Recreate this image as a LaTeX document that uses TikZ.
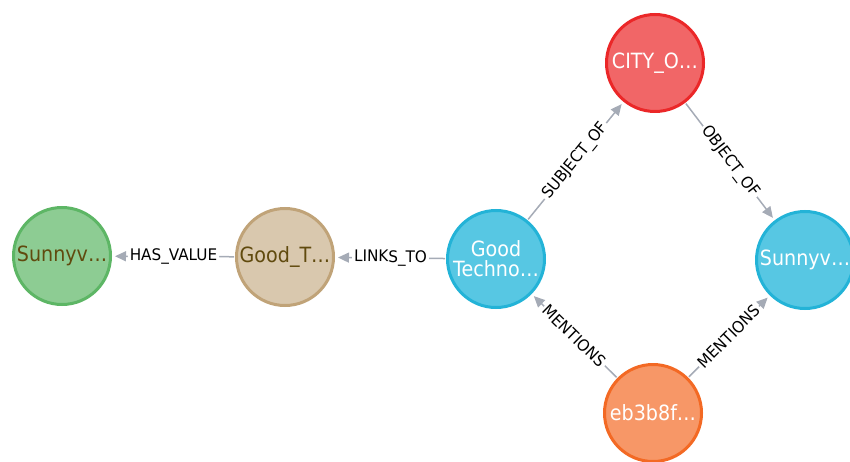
\documentclass[tikz,border=0pt]{standalone}
\usepackage{fontspec}
\setmainfont{DejaVu Sans}
\newfontfamily\nodefont[FakeStretch=0.91]{DejaVu Sans}
\newfontfamily\relfont[FakeStretch=0.95]{DejaVu Sans}
\usetikzlibrary{arrows.meta}
\definecolor{relgray}{HTML}{A5ABB6}
\definecolor{bluefill}{HTML}{57C7E3}
\definecolor{bluedraw}{HTML}{23B3D7}
\definecolor{redfill}{HTML}{F16667}
\definecolor{reddraw}{HTML}{EB2728}
\definecolor{orangefill}{HTML}{F79767}
\definecolor{orangedraw}{HTML}{F36924}
\definecolor{greenfill}{HTML}{8DCC93}
\definecolor{greendraw}{HTML}{5DB665}
\definecolor{tanfill}{HTML}{D9C8AE}
\definecolor{tandraw}{HTML}{C0A378}
\definecolor{browntext}{HTML}{604A0E}
\tikzstyle{entity} = [circle, draw, line width=3pt, minimum size=97pt,
    inner sep=0pt, align=center, font=\nodefont\fontsize{21}{20}\selectfont]
\tikzstyle{light} = [entity, text=white]
\tikzstyle{dark} = [entity, text=browntext]
\tikzstyle{rel} = [draw=relgray, line width=1.5pt,
    -{Triangle[length=11pt,width=10pt]}, shorten >=3pt, shorten <=1pt]
\tikzstyle{lbl} = [fill=white, text=black, inner sep=2pt, sloped,
    font=\relfont\fontsize{16}{16}\selectfont]

\begin{document}
\begin{tikzpicture}[x=1pt, y=-1pt]
    \useasboundingbox (0,0) rectangle (850,462);
    % Place nodes
    \node [dark, fill=greenfill, draw=greendraw] (sunnyval) at (62,256) {Sunnyv…};
    \node [dark, fill=tanfill, draw=tandraw] (goodterm) at (285,257) {Good\_T…};
    \node [light, fill=bluefill, draw=bluedraw] (goodtech) at (496,259) {Good\\Techno…};
    \node [light, fill=redfill, draw=reddraw] (city) at (655,63) {CITY\_O…};
    \node [light, fill=bluefill, draw=bluedraw] (sunnyent) at (805,260) {Sunnyv…};
    \node [light, fill=orangefill, draw=orangedraw] (chunk) at (653,413) {eb3b8f…};
    % Draw edges
    \path [rel] (goodterm) -- node [lbl] {HAS\_VALUE} (sunnyval);
    \path [rel] (goodtech) -- node [lbl] {LINKS\_TO} (goodterm);
    \path [rel] (goodtech) -- node [lbl] {SUBJECT\_OF} (city);
    \path [rel] (city) -- node [lbl] {OBJECT\_OF} (sunnyent);
    \path [rel] (chunk) -- node [lbl] {MENTIONS} (goodtech);
    \path [rel] (chunk) -- node [lbl] {MENTIONS} (sunnyent);
\end{tikzpicture}
\end{document}
